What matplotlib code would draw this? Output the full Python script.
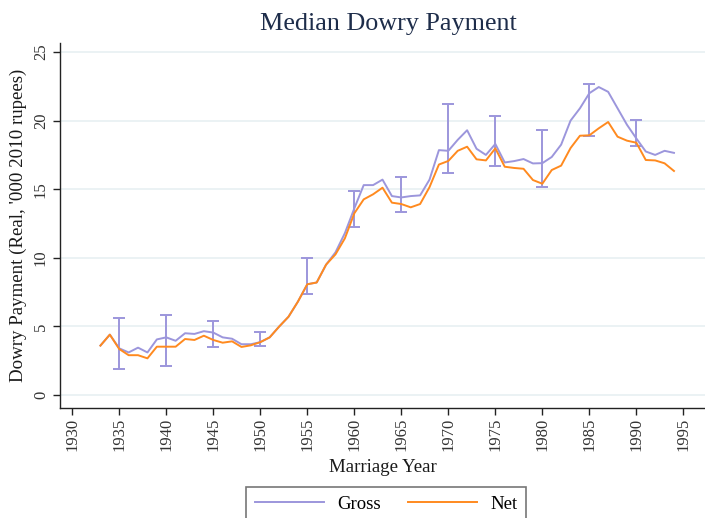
import matplotlib
matplotlib.use("Agg")
import matplotlib.pyplot as plt
import numpy as np

years = list(range(1933, 1995))
gross = [3.6, 4.4, 3.4, 3.1, 3.45, 3.1, 4.05, 4.2, 3.95, 4.5, 4.45, 4.65, 4.55, 4.2, 4.1, 3.7,
         3.7, 3.85, 4.2, 4.98, 5.7, 6.8, 8.07, 8.2, 9.5, 10.4, 11.8, 13.6, 15.3, 15.3, 15.7, 14.5,
         14.4, 14.5, 14.55, 15.7, 17.85, 17.8, 18.6, 19.3, 17.95, 17.5, 18.3, 16.95, 17.05, 17.2, 16.88, 16.9,
         17.35, 18.25, 20.0, 20.9, 22.0, 22.45, 22.1, 20.9, 19.7, 18.7, 17.75, 17.5, 17.8, 17.65]
net = [3.6, 4.4, 3.35, 2.9, 2.9, 2.67, 3.52, 3.52, 3.52, 4.08, 4.01, 4.32, 4.01, 3.81, 3.91, 3.5,
       3.62, 3.85, 4.2, 4.98, 5.7, 6.8, 8.07, 8.2, 9.5, 10.25, 11.42, 13.24, 14.26, 14.63, 15.11, 14.02,
       13.92, 13.68, 13.92, 15.15, 16.8, 17.06, 17.8, 18.1, 17.18, 17.1, 17.98, 16.64, 16.55, 16.49, 15.67, 15.4,
       16.4, 16.72, 18.0, 18.9, 18.93, 19.44, 19.9, 18.83, 18.54, 18.39, 17.13, 17.1, 16.89, 16.33]

ci_years = [1935, 1940, 1945, 1950, 1955, 1960, 1965, 1970, 1975, 1980, 1985, 1990]
ci_low = [1.9, 2.11, 3.52, 3.55, 7.38, 12.27, 13.36, 16.16, 16.69, 15.18, 18.88, 18.15]
ci_high = [5.59, 5.85, 5.42, 4.59, 9.99, 14.89, 15.91, 21.19, 20.36, 19.31, 22.67, 20.04]

xticks = list(range(1930, 2000, 5))
yticks = [0, 5, 10, 15, 20, 25]

gross_c = "#9c96dc"
net_c = "#ff8a1f"
text_c = "#1a1a1a"
tick_c = "#333333"
title_c = "#1e2d4a"

plt.rcParams['font.family'] = ['Liberation Serif', 'DejaVu Serif']

fig = plt.figure(figsize=(7.05, 5.18), dpi=100)
ax = fig.add_axes([60/705, 110/518, 645/705, 365/518])

ax.plot(years, gross, color=gross_c, lw=1.4, label="Gross", zorder=3)
ax.plot(years, net, color=net_c, lw=1.4, label="Net", zorder=4)

gmap = dict(zip(years, gross))
cy = [gmap[y] for y in ci_years]
lo = [c - l for c, l in zip(cy, ci_low)]
hi = [h - c for c, h in zip(cy, ci_high)]
ax.errorbar(ci_years, cy, yerr=[lo, hi], fmt='none', ecolor=gross_c, elinewidth=1.4,
            capsize=4.3, capthick=1.4, zorder=3)

ax.set_xlim(1928.7, 1997.3)
ax.set_ylim(-0.95, 25.66)
ax.set_xticks(xticks)
ax.set_yticks(yticks)
ax.tick_params(axis='x', labelrotation=90, labelsize=12, labelcolor=tick_c, color='#222222',
               length=5, width=1, pad=2)
ax.tick_params(axis='y', labelrotation=90, labelsize=12, labelcolor=tick_c, color='#222222',
               length=5, width=1, pad=3)
for lab in ax.get_yticklabels():
    lab.set_va('center')
ax.grid(axis='y', color='#e8f0f2', lw=1.2)
ax.set_axisbelow(True)
for s in ['top', 'right']:
    ax.spines[s].set_visible(False)
for s in ['left', 'bottom']:
    ax.spines[s].set_color('#222222')
    ax.spines[s].set_linewidth(1.0)

ax.set_xlabel("Marriage Year", fontsize=13.6, color=text_c, labelpad=6)
ax.set_ylabel("Dowry Payment (Real, '000 2010 rupees)", fontsize=13.6, color=text_c, labelpad=4)
fig.text(388/705, 1 - 24/518, "Median Dowry Payment", ha='center', va='center',
         fontsize=18.8, color=title_c)

leg = fig.legend(loc='upper center', bbox_to_anchor=(386/705, 1 - 487/518), ncol=2,
                 frameon=True, fancybox=False, edgecolor='#555555', fontsize=13.5,
                 handlelength=3.7, handletextpad=0.7, columnspacing=1.45,
                 borderpad=0.45, borderaxespad=0.0)
leg.get_frame().set_linewidth(1.2)

fig.savefig("out.png", dpi=100)
